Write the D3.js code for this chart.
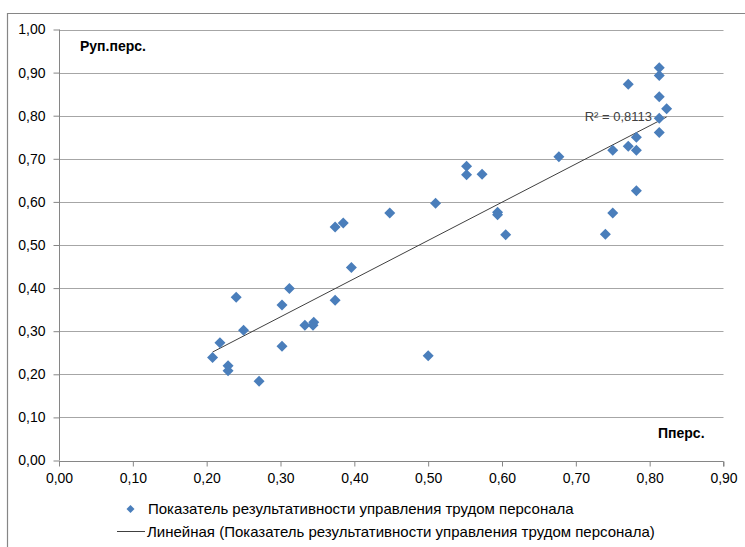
<!DOCTYPE html>
<html>
<head>
<meta charset="utf-8">
<script src="https://cdn.jsdelivr.net/npm/d3@7"></script>
<style>
  body { margin: 0; background: #fff; }
  svg { display: block; font-family: "Liberation Sans", Arial, sans-serif; }
</style>
</head>
<body>
<svg width="745" height="547"></svg>
<script>
// x = Пперс., y = Руп.перс.
var xValues = [0.208, 0.218, 0.229, 0.229, 0.240, 0.250, 0.271, 0.302, 0.302, 0.312,
               0.333, 0.344, 0.345, 0.374, 0.374, 0.385, 0.396, 0.448, 0.500, 0.510,
               0.552, 0.552, 0.573, 0.594, 0.594, 0.605, 0.677, 0.740, 0.750, 0.750,
               0.771, 0.771, 0.782, 0.782, 0.782, 0.813, 0.813, 0.813, 0.813, 0.813,
               0.823];
var yValues = [0.239, 0.273, 0.220, 0.208, 0.379, 0.302, 0.184, 0.265, 0.361, 0.399,
               0.314, 0.314, 0.321, 0.372, 0.542, 0.551, 0.448, 0.574, 0.243, 0.597,
               0.683, 0.663, 0.664, 0.576, 0.570, 0.524, 0.705, 0.525, 0.574, 0.720,
               0.873, 0.729, 0.750, 0.720, 0.626, 0.911, 0.893, 0.844, 0.794, 0.761,
               0.816];
var xTicks = [0, 0.1, 0.2, 0.3, 0.4, 0.5, 0.6, 0.7, 0.8, 0.9];
var yTicks = [0, 0.1, 0.2, 0.3, 0.4, 0.5, 0.6, 0.7, 0.8, 0.9, 1.0];
var seriesName = "Показатель результативности управления трудом персонала";
var trendName = "Линейная (Показатель результативности управления трудом персонала)";
var rSquaredLabel = "R² = 0,8113";

var svg = d3.select("svg"),
    plot = {left: 59, right: 723.5, top: 29.5, bottom: 460.5};

var fmt = function (d) { return d3.format(".2f")(d).replace(".", ","); };

var x = d3.scaleLinear().domain([0, 0.9]).range([plot.left, plot.right]);
var y = d3.scaleLinear().domain([0, 1]).range([plot.bottom, plot.top]);

// chart frame
svg.append("path")
    .attr("d", "M7.5,547 V13.5 H745")
    .attr("fill", "none")
    .attr("stroke", "#868686")
    .attr("stroke-width", 1.2);

// horizontal gridlines
svg.append("g")
    .selectAll("line")
    .data(yTicks.slice(1))
    .enter().append("line")
    .attr("x1", plot.left).attr("x2", plot.right)
    .attr("y1", function (d) { return Math.round(y(d)) + 0.5; })
    .attr("y2", function (d) { return Math.round(y(d)) + 0.5; })
    .attr("stroke", "#a6a6a6");

// axes
var xAxis = svg.append("g")
    .attr("transform", "translate(0," + (Math.round(plot.bottom) + 0.5) + ")")
    .call(d3.axisBottom(x).tickValues(xTicks).tickFormat(fmt).tickSize(5).tickPadding(7));
var yAxis = svg.append("g")
    .attr("transform", "translate(" + (Math.round(plot.left) + 0.5) + ",0)")
    .call(d3.axisLeft(y).tickValues(yTicks).tickFormat(fmt).tickSize(6).tickPadding(8));

[xAxis, yAxis].forEach(function (a) {
    a.select(".domain").attr("stroke", "#868686");
    a.selectAll(".tick line").attr("stroke", "#868686");
    a.selectAll(".tick text")
        .attr("fill", "#000")
        .style("font-size", "14px")
        .style("font-family", "Liberation Sans, Arial, sans-serif");
});
yAxis.select(".domain").attr("d", "M0," + plot.bottom + "V" + plot.top);
xAxis.select(".domain").attr("d", "M" + plot.left + ",0H" + plot.right + "V5");

// linear trend (least squares)
var mx = d3.mean(xValues), my = d3.mean(yValues),
    sxy = d3.sum(xValues, function (v, i) { return (v - mx) * (yValues[i] - my); }),
    sxx = d3.sum(xValues, function (v) { return (v - mx) * (v - mx); }),
    slope = sxy / sxx,
    intercept = my - slope * mx;
var xMin = d3.min(xValues), xMax = d3.max(xValues);

svg.append("line")
    .attr("x1", x(xMin)).attr("y1", y(intercept + slope * xMin))
    .attr("x2", x(xMax)).attr("y2", y(intercept + slope * xMax))
    .attr("stroke", "#404040")
    .attr("stroke-width", 1);

// diamond markers
var diamond = function (r) { return "M0," + (-r) + "L" + r + ",0L0," + r + "L" + (-r) + ",0Z"; };

svg.append("g")
    .selectAll("path")
    .data(xValues)
    .enter().append("path")
    .attr("d", diamond(5.5))
    .attr("transform", function (d, i) { return "translate(" + x(d) + "," + y(yValues[i]) + ")"; })
    .attr("fill", "#4a7ebb");

svg.append("text")
    .attr("x", 652).attr("y", 121)
    .attr("text-anchor", "end")
    .style("font-size", "13px")
    .attr("fill", "#404040")
    .text(rSquaredLabel);

// axis titles
svg.append("text")
    .attr("x", 80).attr("y", 51)
    .style("font-size", "14px").style("font-weight", "bold")
    .text("Руп.перс.");
svg.append("text")
    .attr("x", 658).attr("y", 438)
    .style("font-size", "14px").style("font-weight", "bold")
    .text("Пперс.");

// legend
var legend = svg.append("g");
legend.append("path")
    .attr("d", diamond(4))
    .attr("transform", "translate(130.5,509)")
    .attr("fill", "#4a7ebb");
legend.append("text")
    .attr("x", 148).attr("y", 514)
    .style("font-size", "15px")
    .text(seriesName);
legend.append("line")
    .attr("x1", 117).attr("x2", 145)
    .attr("y1", 531.5).attr("y2", 531.5)
    .attr("stroke", "#404040");
legend.append("text")
    .attr("x", 147).attr("y", 536.5)
    .style("font-size", "15px")
    .text(trendName);
</script>
</body>
</html>
